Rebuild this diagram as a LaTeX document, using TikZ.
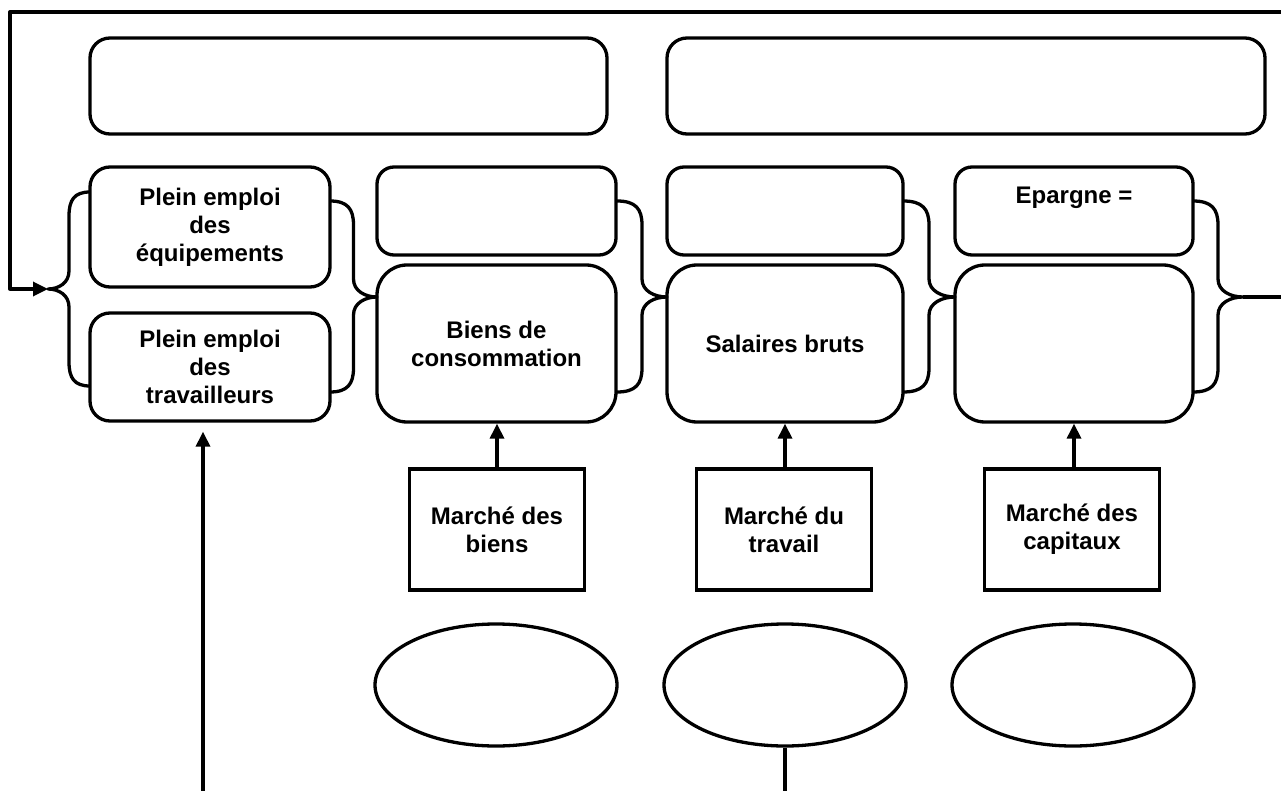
\documentclass[tikz,border=0pt]{standalone}
\usepackage{fontspec}
\setmainfont{Liberation Sans}
\usetikzlibrary{arrows.meta,shapes.geometric}
\newcommand\brc[5]{% x0, xtip, ytop, ybot, ytip
 \draw[ln] (#1,#3) .. controls ({#1+0.75*(#2-#1)/2},#3) and ({(#1+#2)/2},{#3+8}) .. ({(#1+#2)/2},{#3+24})
 -- ({(#1+#2)/2},{#5-18}) .. controls ({(#1+#2)/2},{#5-6}) and ({#2-0.5*(#2-#1)/2},#5) .. (#2,#5)
 .. controls ({#2-0.5*(#2-#1)/2},#5) and ({(#1+#2)/2},{#5+6}) .. ({(#1+#2)/2},{#5+18})
 -- ({(#1+#2)/2},{#4-24}) .. controls ({(#1+#2)/2},{#4-8}) and ({#1+0.75*(#2-#1)/2},#4) .. (#1,#4);}
\begin{document}
\begin{tikzpicture}[x=1pt,y=-1pt,
  ln/.style={line width=3.3pt, line join=round},
  arr/.style={ln, -{Triangle[length=15pt,width=14pt]}},
  lbl/.style={font=\fontsize{24}{28}\selectfont\bfseries, align=center},
  rbox/.style={draw, line width=3.3pt, rounded corners=#1pt, inner sep=0pt, lbl},
  sbox/.style={draw, line width=3.3pt, inner sep=0pt, lbl, minimum width=175pt, minimum height=121pt},
  ell/.style={draw, ellipse, line width=3.3pt, inner sep=0pt, minimum width=242pt, minimum height=122pt}]
\useasboundingbox (0,0) rectangle (1281,791);
\fill[white] (0,0) rectangle (1281,791);
% top boxes
\node[rbox=20, minimum width=517pt, minimum height=96pt] (top1) at (348.5,86) {};
\node[rbox=20, minimum width=598pt, minimum height=96pt] (top2) at (966,86) {};
% left column
\node[rbox=20, minimum width=240pt, minimum height=120pt] (equip) at (210,227) {Plein emploi\\des\\équipements};
\node[rbox=20, minimum width=240pt, minimum height=108pt] (trav) at (210,367) {Plein emploi\\des\\travailleurs};
% small boxes
\node[rbox=17, minimum width=239pt, minimum height=88pt] (s1) at (496.5,211) {};
\node[rbox=17, minimum width=236pt, minimum height=88pt] (s2) at (785,211) {};
\node[rbox=17, minimum width=238pt, minimum height=88pt] (s3) at (1074,211) {};
\node[lbl] (s3t) at (1074,198) {Epargne =};
% big boxes
\node[rbox=30, minimum width=239pt, minimum height=157pt] (b1) at (496.5,343.5) {Biens de\\consommation};
\node[rbox=30, minimum width=236pt, minimum height=157pt] (b2) at (785,343.5) {Salaires bruts};
\node[rbox=30, minimum width=238pt, minimum height=157pt] (b3) at (1074,343.5) {};
% markets
\node[sbox] (m1) at (497,529.5) {Marché des\\biens};
\node[sbox] (m2) at (784,529.5) {Marché du\\travail};
\node[sbox] (m3) at (1072,529.5) {Marché des\\capitaux};
% ellipses
\node[ell] (e1) at (496,685) {};
\node[ell] (e2) at (785,685) {};
\node[ell] (e3) at (1073,685) {};
% arrows markets -> boxes
\draw[arr] (m1.north) -- (m1.north |- b1.south);
\draw[arr] (b2.south |- m2.north) -- (b2.south);
\draw[arr] (b3.south |- m3.north) -- (b3.south);
% braces
\brc{90}{48}{192}{386}{289}
\brc{330}{377}{201}{392}{297}
\brc{617}{667}{201}{392}{297}
\brc{903}{955}{201}{392}{297}
\brc{1193}{1243}{201}{392}{297}
% loop
\coordinate (tr) at (1281,12);
\coordinate (tl) at (10,12);
\coordinate (lb) at (10,289);
\coordinate (ltip) at (48,289);
\coordinate (rtip) at (1243,297);
\coordinate (rout) at (1281,297);
\draw[arr] (tr) -- (tl) -- (lb) -- (ltip);
\draw[ln] (rtip) -- (rout);
% bottom lines
\coordinate (bl) at (203,791);
\draw[arr, shorten >=9pt] (bl) -- (bl |- trav.south);
\coordinate (be) at (785,791);
\draw[ln] (e2.south) -- (be);
\end{tikzpicture}
\end{document}
